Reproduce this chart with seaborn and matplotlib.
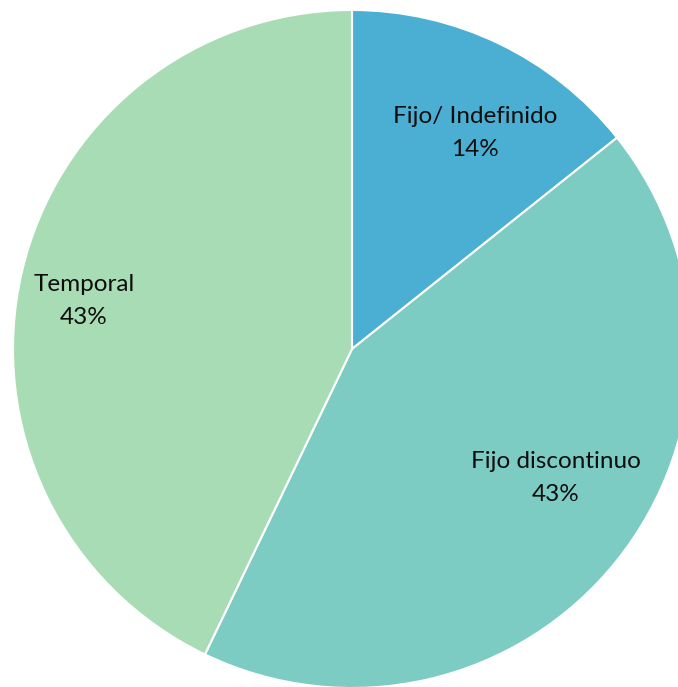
import numpy as np
import seaborn as sns
import matplotlib.pyplot as plt

sns.set_style("white")
plt.rcParams['font.family'] = ['Lato', 'DejaVu Sans']

# Datos del gráfico
categorias = ['Fijo/ Indefinido', 'Fijo discontinuo', 'Temporal']
valores = [1, 3, 3]
colores = ['#4BAFD3', '#7CCCC4', '#A8DCB4']

W, H = 678, 687
fig = plt.figure(figsize=(W / 100, H / 100), dpi=100)
ax = fig.add_axes([0, 0, 1, 1])

centro = (352, H - 349)
radio = 339

wedges, texts, autotexts = ax.pie(
    valores, colors=colores, startangle=90, counterclock=False,
    center=centro, radius=radio, autopct='%1.0f%%',
    wedgeprops=dict(edgecolor='white', linewidth=1.5),
)

# Posiciones de las etiquetas (como en el original, colocadas a mano)
pos_etiquetas = [(475, 133), (556, 478), (84, 301)]
for cat, at, (x, y) in zip(categorias, autotexts, pos_etiquetas):
    pct = at.get_text()
    at.set_text(f'{cat}\n{pct}')
    at.set_position((x, H - y))
    at.set_ha('center')
    at.set_va('center')
    at.set_fontsize(17.5)
    at.set_color('#0d0d0d')
    at.set_linespacing(1.75)

ax.set_xlim(0, W)
ax.set_ylim(0, H)
ax.set_aspect('equal')
ax.axis('off')

fig.savefig('out.png', dpi=100)
